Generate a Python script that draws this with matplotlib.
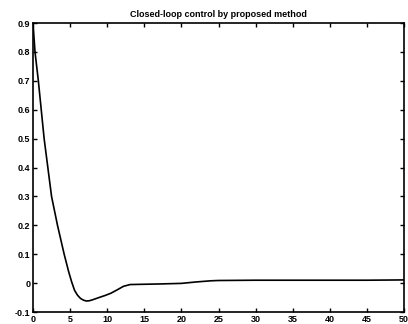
import matplotlib
matplotlib.use("Agg")
import matplotlib.pyplot as plt
import numpy as np

title = "Closed-loop control by proposed method"
t = [0, 0.27, 0.72, 1.5, 2.0, 2.5, 3.3, 4.2, 4.8, 5.2, 5.6, 6.0, 6.4, 6.8, 7.2, 7.6,
     8.0, 9.0, 9.7, 10.5, 11.3, 12.2, 13.1, 15, 17, 20, 22, 24, 25, 30, 35, 40, 45, 50]
y = [0.9, 0.8, 0.7, 0.5, 0.4, 0.3, 0.2, 0.1, 0.04, 0.005, -0.025, -0.042, -0.053,
     -0.059, -0.062, -0.061, -0.058, -0.049, -0.043, -0.035, -0.024, -0.011, -0.005,
     -0.004, -0.003, -0.001, 0.004, 0.008, 0.009, 0.01, 0.01, 0.01, 0.01, 0.011]
xticks = [0, 5, 10, 15, 20, 25, 30, 35, 40, 45, 50]
yticks = [-0.1, 0, 0.1, 0.2, 0.3, 0.4, 0.5, 0.6, 0.7, 0.8, 0.9]
yticklabels = ["-0.1", "0", "0.1", "0.2", "0.3", "0.4", "0.5", "0.6", "0.7", "0.8", "0.9"]

plt.rcParams['font.family'] = ['Liberation Sans', 'DejaVu Sans']
fig = plt.figure(figsize=(4.08, 3.24), dpi=100)
ax = fig.add_axes([33/408, 12/324, 371/408, 289/324])
ax.plot(t, y, color='black', linewidth=1.2)
ax.set_xlim(0, 50)
ax.set_ylim(-0.1, 0.9)
ax.set_xticks(xticks)
ax.set_xticklabels([str(v) for v in xticks], fontsize=6.5, fontweight='bold')
ax.set_yticks(yticks)
ax.set_yticklabels(yticklabels, fontsize=6.5, fontweight='bold')
ax.tick_params(direction='in', top=True, right=True, length=3, width=1, pad=2)
for s in ax.spines.values():
    s.set_linewidth(1.2)
ax.set_title(title, fontsize=6.5, fontweight='bold', pad=4)
fig.savefig("out.png", dpi=100)
